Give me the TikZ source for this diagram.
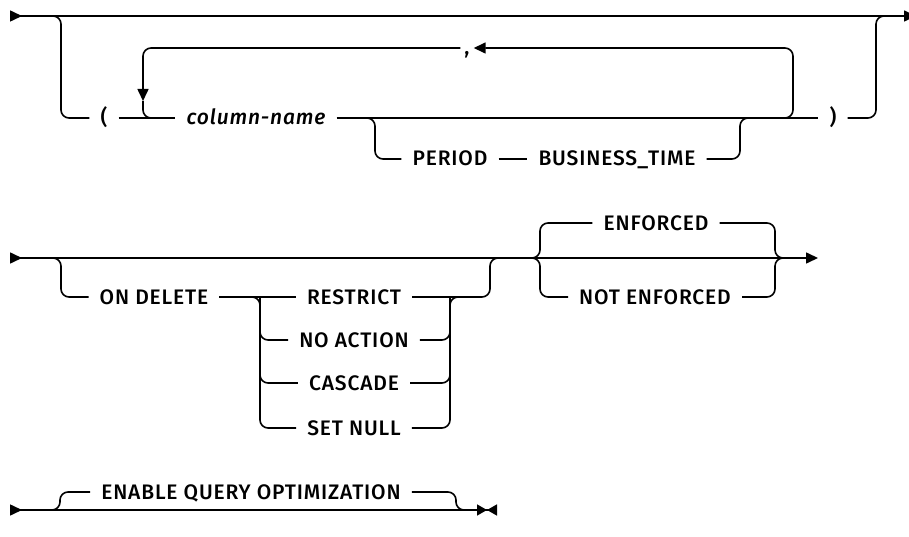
\documentclass[tikz,border=0pt]{standalone}
\usepackage{fontspec}
\setmainfont{Liberation Sans}
\newfontfamily\railfont{Fira Sans Medium}[ItalicFont={Fira Sans Medium Italic}, LetterSpace=4]
\usetikzlibrary{arrows.meta}

\begin{document}
\begin{tikzpicture}[
    x=1pt, y=-1pt,
    rail/.style={line width=1.6pt, rounded corners=8pt},
    kw/.style={font=\railfont\fontsize{21}{24}\selectfont, text height=14pt, text depth=0pt,
               inner xsep=11pt, inner ysep=0pt},
    var/.style={kw, font=\railfont\fontsize{21}{24}\selectfont\itshape},
    tipin/.tip={Triangle[reversed, length=12pt, width=11pt]},
    tipout/.tip={Triangle[length=12pt, width=11pt]}
]
    \useasboundingbox (0,0) rectangle (909,537);

    % Row 1: column list
    \coordinate (r1s) at (10,16);
    \coordinate (r1e) at (916,16);
    \coordinate (r1a) at (52,16);
    \coordinate (r1l) at (61,16);
    \coordinate (r1r) at (876,16);
    \coordinate (r1b) at (885,16);
    \coordinate (l1) at (781,118);
    \coordinate (l2) at (793,118);
    \coordinate (l3) at (143,101);
    \coordinate (l4) at (160,118);
    \coordinate (p1) at (366,118);
    \coordinate (p2) at (375,118);
    \coordinate (p3) at (740,118);
    \coordinate (p4) at (749,118);

    \node[kw] (lparen) at (104,118) {(};
    \node[var] (colname) at (256,118) {column-name};
    \node[kw] (rparen) at (833,118) {)};
    \node[kw, inner xsep=4pt] (comma) at (467,48) {,};
    \node[kw] (period) at (450,159) {PERIOD};
    \node[kw] (btime) at (617,159) {BUSINESS\_TIME};

    \draw[rail, tipin-tipout] (r1s) -- (r1e);
    \draw[rail] (r1a) -- (r1l) |- (lparen.west);
    \draw[rail] (lparen) -- (colname);
    \draw[rail] (colname) -- (rparen);
    \draw[rail] (rparen.east) -| (r1r) -- (r1b);

    % repeat loop
    \draw[rail, -tipout] (l1) -- (l2) |- (comma.east);
    \draw[rail, -tipout] (comma.west) -| (l3);
    \draw[rail] (l3) |- (l4);

    % optional period
    \draw[rail] (p1) -- (p2) |- (period.west);
    \draw[rail] (period) -- (btime);
    \draw[rail] (btime.east) -| (p3) -- (p4);

    % Row 2: delete rule and enforcement
    \coordinate (r2s) at (10,258);
    \coordinate (r2e) at (818,258);
    \coordinate (r2a) at (52,258);
    \coordinate (r2l) at (61,258);
    \coordinate (o1) at (251,297);
    \coordinate (o2) at (260,297);
    \coordinate (o3) at (450,297);
    \coordinate (o4) at (459,297);
    \coordinate (o5) at (490,258);
    \coordinate (o6) at (499,258);
    \coordinate (e1) at (531,258);
    \coordinate (e2) at (540,258);
    \coordinate (e3) at (775,258);
    \coordinate (e4) at (784,258);

    \node[kw] (ondel) at (154,297) {ON DELETE};
    \node[kw] (restrict) at (354,297) {RESTRICT};
    \node[kw] (noact) at (354,340) {NO ACTION};
    \node[kw] (cascade) at (354,383) {CASCADE};
    \node[kw] (setnull) at (354,428) {SET NULL};
    \node[kw] (enf) at (656,223) {ENFORCED};
    \node[kw] (notenf) at (655,297) {NOT ENFORCED};

    \draw[rail, tipin-tipout] (r2s) -- (r2e);
    \draw[rail] (r2a) -- (r2l) |- (ondel.west);
    \draw[rail] (ondel) -- (restrict);
    \draw[rail] (o1) -- (o2) |- (setnull.west);
    \draw[rail] (o2) |- (noact.west);
    \draw[rail] (o2) |- (cascade.west);
    \draw[rail] (setnull.east) -| (o3) -- (o4);
    \draw[rail] (noact.east) -| (o3);
    \draw[rail] (cascade.east) -| (o3);
    \draw[rail] (restrict.east) -| (o5) -- (o6);

    \draw[rail] (e1) -- (e2) |- (enf.west);
    \draw[rail] (e1) -- (e2) |- (notenf.west);
    \draw[rail] (enf.east) -| (e3) -- (e4);
    \draw[rail] (notenf.east) -| (e3) -- (e4);

    % Row 3: query optimization
    \coordinate (r3s) at (10,510);
    \coordinate (r3e) at (497,510);
    \coordinate (q1) at (52,510);
    \coordinate (q2) at (60,510);
    \coordinate (q3) at (456,510);
    \coordinate (q4) at (465,510);

    \node[kw] (enable) at (251,492) {ENABLE QUERY OPTIMIZATION};

    \draw[rail, tipin-{Triangle[length=10pt, width=11pt] Triangle[reversed, length=10pt, width=11pt]}]
        (r3s) -- (r3e);
    \draw[rail] (q1) -- (q2) |- (enable.west);
    \draw[rail] (enable.east) -| (q3) -- (q4);

\end{tikzpicture}
\end{document}
